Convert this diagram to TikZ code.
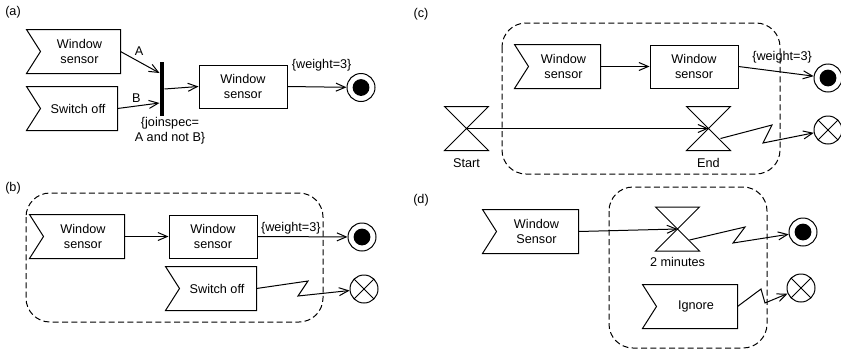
\documentclass[tikz,border=0pt]{standalone}
\usepackage{fontspec}
\setmainfont{Liberation Sans}
\usetikzlibrary{arrows.meta}
\newcommand\acceptshape[1]{\draw (#1.north west) -- (#1.north east) -- (#1.south east) -- (#1.south west) -- ([xshift=10.5pt]#1.west) -- cycle;}
\newcommand\hourglass[1]{\draw (#1.north west) -- (#1.north east) -- (#1.south west) -- (#1.south east) -- cycle;}
\begin{document}
\begin{tikzpicture}[x=0.75pt,y=-0.75pt, line width=0.75pt,
  font=\fontsize{9.5}{11.25}\selectfont,
  every node/.style={inner sep=0pt},
  box/.style={draw, minimum height=32.25pt, align=center},
  acc/.style={minimum height=32.25pt},
  acctext/.style={align=center, xshift=4.5pt},
  hg/.style={minimum width=32.25pt, minimum height=32.25pt},
  fin/.style={circle, draw, minimum size=21pt, path picture={\fill (path picture bounding box.center) circle (6.3pt);}},
  ffin/.style={circle, draw, minimum size=21pt, path picture={\draw (path picture bounding box.north west) -- (path picture bounding box.south east) (path picture bounding box.north east) -- (path picture bounding box.south west);}},
  flow/.style={-{Straight Barb[length=7pt,width=6pt]}},
  region/.style={draw, dash pattern=on 4.5pt off 2.5pt, rounded corners=18pt},
  lbl/.style={align=center},
  joinbar/.style={fill=black, minimum width=3pt, minimum height=40.5pt}
]
\useasboundingbox (0,0) rectangle (841,350);

% ---------------- (a)
\node (la) at (13,12) {(a)};
\node[acc, minimum width=69.75pt, label={[acctext]center:{Window\\sensor}}] (a1) at (73.5,51.5) {};
\acceptshape{a1}
\node[acc, minimum width=67.5pt, label={[acctext]center:{Switch off}}] (a2) at (72,108.5) {};
\acceptshape{a2}
\node[joinbar] (bar) at (162,89) {};
\node[lbl] (js) at (170,131) {\{joinspec=\\A and not B\}};
\node[box, minimum width=66pt] (a3) at (243,86.5) {Window\\sensor};
\node[fin] (a4) at (361,87.5) {};
\draw[flow] (a1.east) -- ([shift={(0,-16)}]bar.west) node[pos=0.48, above=4pt] {A};
\draw[flow] (a2.east) -- ([shift={(0,14)}]bar.west) node[pos=0.45, above=2.5pt] {B};
\draw[flow] (bar.east) -- (a3.west);
\draw[flow] (a3.east) -- (a4) node[pos=0.58, yshift=16.5pt] {\{weight=3\}};

% ---------------- (b)
\node (lb) at (13,188) {(b)};
\draw[region] (26,193) rectangle (323,322);
\node[acc, minimum width=70.5pt, label={[acctext]center:{Window\\sensor}}] (b1) at (77,236.5) {};
\acceptshape{b1}
\node[box, minimum width=66pt] (b2) at (213,236.5) {Window\\sensor};
\node[fin] (b3) at (362,237) {};
\node[acc, minimum width=67.5pt, label={[acctext]center:{Switch off}}] (b4) at (211,288.5) {};
\acceptshape{b4}
\node[ffin] (b5) at (364,289) {};
\coordinate (bz1) at (308,281);
\coordinate (bz2) at (298,296);
\draw[flow] (b1.east) -- (b2.west);
\draw[flow] (b2.east) -- (b3) node[pos=0.37, yshift=6pt] {\{weight=3\}};
\draw[flow] (b4.east) -- (bz1) -- (bz2) -- (b5);

% ---------------- (c)
\node (lc) at (421,14) {(c)};
\draw[region] (502,23) rectangle (780,174);
\node[acc, minimum width=63.75pt, label={[acctext]center:{Window\\sensor}}] (c1) at (557.5,66.5) {};
\acceptshape{c1}
\node[box, minimum width=66pt] (c2) at (694,66.5) {Window\\sensor};
\node[fin] (c3) at (828,78) {};
\node[hg, label={[label distance=5.5pt]below:Start}] (st) at (466.5,128.5) {};
\hourglass{st}
\node[hg, label={[label distance=5.5pt]below:End}] (en) at (708.5,128.5) {};
\hourglass{en}
\node[ffin] (c4) at (828,130) {};
\coordinate (cz1) at (772,125);
\coordinate (cz2) at (763,143);
\draw[flow] (c1.east) -- (c2.west);
\draw[flow] (c2.east) -- (c3) node[pos=0.58, yshift=11.25pt] {\{weight=3\}};
\draw[flow] (st.center) -- (en.center);
\draw[flow] ([shift={(12,10)}]en.center) -- (cz1) -- (cz2) -- (c4);

% ---------------- (d)
\node (ld) at (421,200) {(d)};
\draw[region] (609,187) rectangle (767,348);
\node[acc, minimum width=71.25pt, label={[acctext]center:{Window\\Sensor}}] (d1) at (530.5,231.5) {};
\acceptshape{d1}
\node[hg, label={[label distance=4.5pt]below:2 minutes}] (d2) at (677.5,229) {};
\hourglass{d2}
\node[fin] (d3) at (803,232) {};
\node[acc, minimum width=70.5pt, label={[acctext]center:{Ignore}}] (d4) at (690,306.5) {};
\acceptshape{d4}
\node[ffin] (d5) at (801,288) {};
\coordinate (dz1) at (745,227);
\coordinate (dz2) at (733,243);
\coordinate (dz3) at (761,289);
\coordinate (dz4) at (765,303);
\draw[flow] (d1.east) -- (d2.center);
\draw[flow] ([shift={(12,11)}]d2.center) -- (dz1) -- (dz2) -- (d3);
\draw[flow] (d4.east) -- (dz3) -- (dz4) -- (d5);
\end{tikzpicture}
\end{document}
